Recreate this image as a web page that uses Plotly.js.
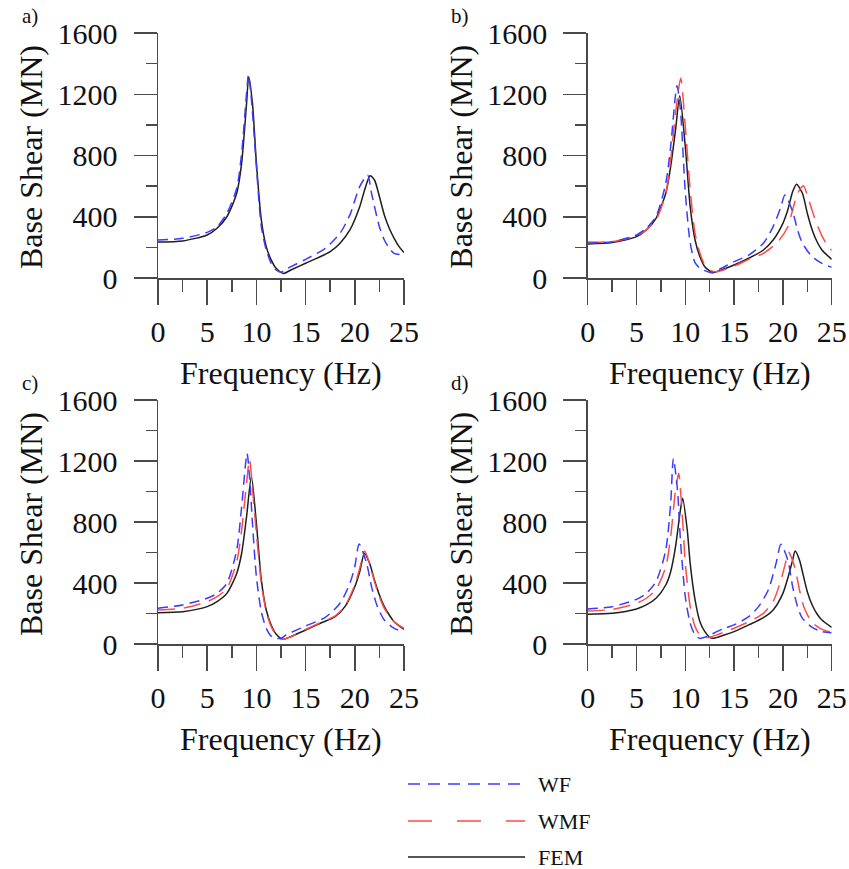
<!DOCTYPE html>
<html>
<head>
<meta charset="utf-8">
<script src="https://cdn.plot.ly/plotly-3.0.1.min.js"></script>
<style>html,body{margin:0;padding:0;background:#fff;}#chart{width:849px;height:869px;}</style>
</head>
<body>
<div id="chart"></div>
<script>
// ---- Data ----
const panelLabels = ["a)", "b)", "c)", "d)"];
const seriesNames = ["WF", "WMF", "FEM"];
const xTickVals = [0, 5, 10, 15, 20, 25];
const yTickVals = [0, 400, 800, 1200, 1600];

// Panel a
const aFreqFEM = [0,2.5,5,6,7,8,8.5,9,9.22,9.6,10,10.5,11,11.5,12,12.75,13.5,15,17.5,18.5,19.5,20.5,21,21.55,22,22.5,23,23.5,24,24.5,25];
const aFEM     = [235,242,281,325,400,553,750,1140,1315,1140,750,380,205,118,63,30,52,96,172,227,314,466,575,668,640,532,412,325,259,205,166];
const aFreqWF  = [0,2.5,5,6,7,8,8.5,9,9.19,9.5,10,10.5,11,11.5,12,12.5,13,15,17,18.5,19.5,20.5,21.3,21.7,22.5,23,23.5,24,25];
const aWF      = [248,259,298,335,423,586,815,1207,1327,1163,728,335,183,96,52,37,57,122,194,292,412,597,673,553,335,248,194,161,150];

// Panel b
const bFreqFEM = [0,2.5,5,6,7,8,8.5,9,9.43,10,10.5,11,11.5,12,12.8,13.5,15,16.5,18,19,20,20.5,21,21.4,22,22.5,23,23.5,24,25];
const bFEM     = [222,231,270,314,390,553,728,967,1190,858,466,248,139,74,35,48,85,129,183,248,357,444,564,612,553,423,314,237,183,122];
const bFreqWF  = [0,2.5,5,6,7,8,8.5,9.15,9.5,10,10.5,11,11.5,12,12.7,13.5,15,16.5,18,19,19.8,20.2,21,21.5,22,23,24,25];
const bWF      = [227,237,281,325,401,619,858,1255,1100,560,230,100,63,48,35,57,107,150,227,335,466,542,434,314,227,139,96,70];
const bFreqWMF = [0,2.5,5,6,7,8,8.5,9,9.53,10,10.5,11,11.5,12,12.6,13.2,15,16.5,18,19.5,20.5,21,21.5,22.1,22.5,23,23.5,24,24.5,25];
const bWMF     = [235,237,275,314,379,553,771,1076,1305,989,575,292,161,85,48,41,78,122,161,237,335,444,553,603,542,440,350,275,220,180];

// Panel c
const cFreqFEM = [0,2.5,5,6,7,8,8.5,9,9.49,10,10.5,11,11.5,12,12.7,13.5,15,16.5,18,19,20,20.5,20.98,21.5,22,22.5,23,23.5,24,25];
const cFEM     = [205,212,245,278,332,463,595,835,1097,791,420,223,125,66,31,48,92,136,179,245,376,474,595,529,420,321,245,190,146,96];
const cFreqWF  = [0,2.5,5,6,7,8,8.5,9.05,9.3,9.6,10,10.5,11,11.5,12,12.5,13,15,17,18.5,19.5,20,20.44,21.2,21.7,22.3,23,24,25];
const cWF      = [234,256,300,332,398,616,900,1250,1097,791,441,212,103,52,37,37,59,118,175,267,398,507,656,529,376,245,157,103,81];
const cFreqWMF = [0,2.5,5,6,7,8,8.5,9,9.3,9.7,10,10.5,11,11.5,12,12.6,13.5,15,16.5,18,19,20,20.5,21,21.5,22,22.5,23,24,25];
const cWMF     = [223,234,278,310,365,540,747,1054,1211,944,726,398,212,114,59,31,48,96,140,184,249,387,496,610,529,409,310,234,146,103];

// Panel d
const dFreqFEM = [0,2.5,5,6,7,8,8.5,9,9.5,9.73,10.2,10.5,11,11.5,12,12.5,12.8,14,15,16.5,18,19,20,20.5,21,21.25,21.7,22,22.5,23,23.5,24,25];
const dFEM     = [195,201,230,256,300,387,474,638,879,955,748,529,289,146,81,44,37,59,81,125,173,223,332,431,551,610,551,474,343,256,197,157,109];
const dFreqWF  = [0,2.5,5,6,7,8,8.5,8.78,9.2,9.5,10,10.5,11,11.5,12,13,14,15,16.5,17.5,18.5,19.3,19.8,20.5,21,21.5,22,23,24,25];
const dWF      = [230,245,293,332,409,616,922,1217,1010,682,310,136,59,37,44,74,103,125,179,245,354,529,654,551,376,245,168,109,81,74];
const dFreqWMF = [0,2.5,5,6,7,8,8.5,9,9.32,9.7,10,10.5,11,11.5,12,12.5,13.5,15,16.5,18,19,19.8,20.3,20.56,21.2,21.7,22.2,23,24,25];
const dWMF     = [216,227,267,300,358,507,704,1010,1119,835,529,245,114,59,44,44,66,103,146,201,278,420,540,603,507,354,234,140,96,77];

// ---- Styling ----
const W = 849, H = 869;
const FONT = "Liberation Serif, Times New Roman, serif";
const AXC = "#4a4a4a";
const COLORS = {WF: "#3b3bff", WMF: "#ff4a4a", FEM: "#1e1e1e"};
const DASH = {WF: "10px,6px", WMF: "17px,9px", FEM: "solid"};

const px = v => v / W;
const py = v => 1 - v / H;

// plot areas in pixels: [x0, x1, yTop, yBottom]
const boxes = [
  [158, 404, 33, 278],
  [587.7, 831.7, 33, 278],
  [158, 404, 400, 644],
  [587.7, 831.7, 400, 644]
];

const panelData = [
  {WF: [aFreqWF, aWF], FEM: [aFreqFEM, aFEM]},
  {WF: [bFreqWF, bWF], WMF: [bFreqWMF, bWMF], FEM: [bFreqFEM, bFEM]},
  {WF: [cFreqWF, cWF], WMF: [cFreqWMF, cWMF], FEM: [cFreqFEM, cFEM]},
  {WF: [dFreqWF, dWF], WMF: [dFreqWMF, dWMF], FEM: [dFreqFEM, dFEM]}
];

const traces = [];
panelData.forEach((pd, i) => {
  const sfx = i === 0 ? "" : String(i + 1);
  ["FEM", "WMF", "WF"].forEach(name => {
    if (!pd[name]) return;
    traces.push({
      x: pd[name][0], y: pd[name][1], type: "scatter", mode: "lines",
      name: name, showlegend: false, hoverinfo: "skip",
      xaxis: "x" + sfx, yaxis: "y" + sfx,
      line: {color: COLORS[name], width: 1.5, dash: DASH[name], shape: "spline", smoothing: 0.7}
    });
  });
});

const layout = {
  width: W, height: H,
  margin: {l: 0, r: 0, t: 0, b: 0},
  paper_bgcolor: "#fff", plot_bgcolor: "#fff",
  showlegend: false,
  font: {family: FONT, color: "#111"},
  annotations: [], shapes: []
};

boxes.forEach((b, i) => {
  const sfx = i === 0 ? "" : String(i + 1);
  layout["xaxis" + sfx] = {
    domain: [px(b[0]), px(b[1])], anchor: "y" + sfx, range: [0, 25],
    tickvals: xTickVals, ticktext: xTickVals.map(String),
    ticks: "outside", ticklen: 25, tickwidth: 1.5, tickcolor: AXC,
    minor: {dtick: 2.5, ticks: "outside", ticklen: 12, tickwidth: 1.5, tickcolor: AXC},
    showline: true, linecolor: AXC, linewidth: 1.5,
    showgrid: false, zeroline: false, fixedrange: true,
    tickfont: {family: FONT, size: 30, color: "#111"},
    ticklabelstandoff: 1
  };
  layout["yaxis" + sfx] = {
    domain: [py(b[3]), py(b[2])], anchor: "x" + sfx, range: [0, 1600],
    tickvals: yTickVals, ticktext: yTickVals.map(String),
    ticks: "outside", ticklen: 23, tickwidth: 1.5, tickcolor: AXC,
    minor: {dtick: 200, ticks: "outside", ticklen: 11, tickwidth: 1.5, tickcolor: AXC},
    showline: true, linecolor: AXC, linewidth: 1.5,
    showgrid: false, zeroline: false, fixedrange: true,
    tickfont: {family: FONT, size: 30, color: "#111"},
    ticklabelstandoff: 10
  };
  const cx = (b[0] + b[1]) / 2;
  layout.annotations.push({
    text: "Frequency (Hz)", xref: "paper", yref: "paper",
    x: px(cx), y: py(b[3] + 95), xanchor: "center", yanchor: "middle",
    showarrow: false, font: {family: FONT, size: 32, color: "#111"}
  });
  layout.annotations.push({
    text: "Base Shear (MN)", xref: "paper", yref: "paper", textangle: -90,
    x: px(b[0] - 127), y: py(b[2] + 124), xanchor: "center", yanchor: "middle",
    showarrow: false, font: {family: FONT, size: 32, color: "#111"}
  });
  layout.annotations.push({
    text: panelLabels[i], xref: "paper", yref: "paper",
    x: px(b[0] - 128), y: py(b[2] - 17), xanchor: "center", yanchor: "middle",
    showarrow: false, font: {family: FONT, size: 21, color: "#111"}
  });
});

// Legend (drawn manually: long sample lines)
const legendRows = [
  {name: "WF", y: 784, dash: "12px,8px"},
  {name: "WMF", y: 821, dash: "24px,25px"},
  {name: "FEM", y: 857, dash: "solid"}
];
legendRows.forEach(r => {
  layout.shapes.push({
    type: "line", xref: "paper", yref: "paper",
    x0: px(408), x1: px(525), y0: py(r.y), y1: py(r.y),
    line: {color: COLORS[r.name], width: 1.5, dash: r.dash}
  });
  layout.annotations.push({
    text: r.name, xref: "paper", yref: "paper",
    x: px(536), y: py(r.y), xanchor: "left", yanchor: "middle",
    showarrow: false, font: {family: FONT, size: 22, color: "#111"}
  });
});

Plotly.newPlot("chart", traces, layout, {staticPlot: true, displayModeBar: false});
</script>
</body>
</html>
